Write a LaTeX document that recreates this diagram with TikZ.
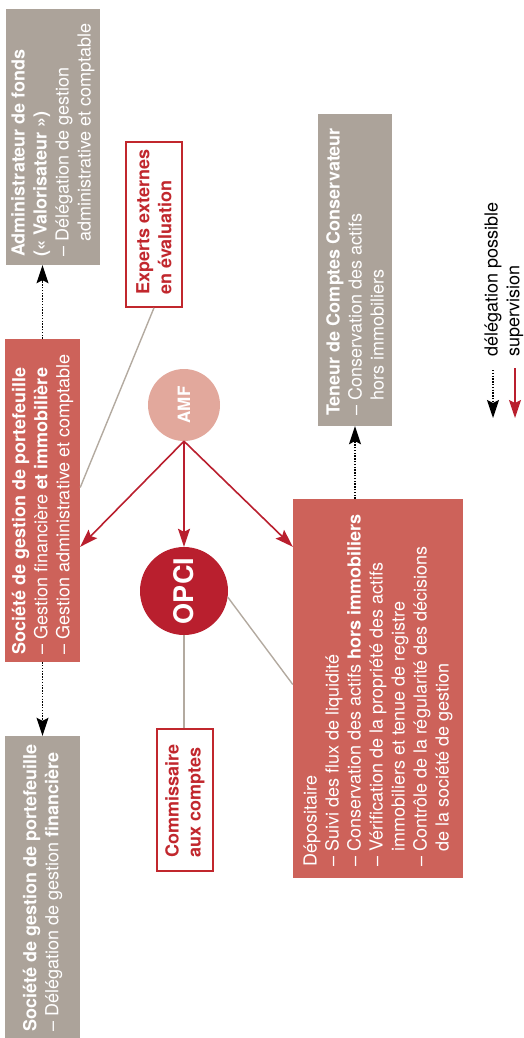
\documentclass[tikz,border=0pt]{standalone}
\usepackage{fontspec}
\setmainfont{TeX Gyre Heros}
\usetikzlibrary{arrows.meta,calc}
\definecolor{boxgray}{HTML}{ACA39A}
\definecolor{boxred}{HTML}{CD625A}
\definecolor{opred}{HTML}{B91F2E}
\definecolor{amfc}{HTML}{E2A89C}
\definecolor{linegray}{HTML}{B3AAA0}
\definecolor{outred}{HTML}{C1272D}
\begin{document}
\begin{tikzpicture}[x=1pt,y=-1pt,
  gbox/.style={rectangle, fill=boxgray, inner sep=0},
  rbox/.style={rectangle, fill=boxred, inner sep=0},
  obox/.style={rectangle, draw=outred, line width=1.6pt, fill=white, inner sep=0},
  basetxt/.style={rotate=90, anchor=west, inner sep=0, align=left, font=\fontsize{18}{22}\selectfont},
  wtxt/.style={basetxt, text=white},
  rtxt/.style={basetxt, text=outred, font=\fontsize{18}{22}\selectfont\bfseries},
  ktxt/.style={basetxt, text=black},
  deleg/.style={line width=1.4pt, dash pattern=on 1.4pt off 1.4pt, -{Stealth[length=18pt,width=12pt,inset=3pt]}},
  super/.style={draw=opred, line width=1.6pt, -{Stealth[length=18pt,width=12pt,inset=3pt]}},
  gline/.style={draw=linegray, line width=1.4pt}]
\useasboundingbox (0,0) rectangle (523,1038);

% boxes
\node[gbox, minimum width=94pt, minimum height=256pt] (adm) at (53,137) {};
\node[wtxt] (admt) at (53,257) {\textbf{Administrateur de fonds}\\\textbf{(« Valorisateur »)}\\– Délégation de gestion\\\phantom{– }administrative et comptable};

\node[obox, minimum width=56pt, minimum height=165pt] (exp) at (154,224.5) {};
\node[rtxt] (expt) at (154,295) {Experts externes\\en évaluation};

\node[rbox, minimum width=75pt, minimum height=323pt] (socA) at (42.5,500.5) {};
\node[wtxt] (socAt) at (42.5,655) {\textbf{Société de gestion de portefeuille}\\– Gestion financière \textbf{et immobilière}\\– Gestion administrative et comptable};

\node[circle, fill=amfc, minimum size=72pt, inner sep=0] (amf) at (184,405) {\rotatebox{90}{\color{white}\fontsize{17}{17}\selectfont\bfseries AMF}};
\node[circle, fill=opred, minimum size=88pt, inner sep=0] (opci) at (184,591) {\rotatebox{90}{\color{white}\fontsize{27}{27}\selectfont\bfseries OPCI}};

\node[gbox, minimum width=74pt, minimum height=312pt] (ten) at (355,270) {};
\node[wtxt] (tent) at (355,416) {\textbf{Teneur de Comptes Conservateur}\\– Conservation des actifs\\\phantom{– }hors immobiliers};

\node[rbox, minimum width=170pt, minimum height=379pt] (dep) at (378,688.5) {};
\node[wtxt] (dept) at (378,867) {Dépositaire\\– Suivi des flux de liquidité\\– Conservation des actifs \textbf{hors immobiliers}\\– Vérification de la propriété des actifs\\\phantom{– }immobiliers et tenue de registre\\– Contrôle de la régularité des décisions\\\phantom{– }de la société de gestion};

\node[obox, minimum width=56pt, minimum height=142pt] (com) at (185,800) {};
\node[rtxt] (comt) at (185,858) {Commissaire\\aux comptes};

\node[gbox, minimum width=75pt, minimum height=302pt] (socB) at (42.5,887) {};
\node[wtxt] (socBt) at (42.5,1032) {\textbf{Société de gestion de portefeuille}\\– Délégation de gestion \textbf{financière}};

% gray links
\draw[gline] (exp.south) -- ([yshift=13pt]socA.east);
\draw[gline] (opci.-8) -- ([yshift=4pt]dep.west);
\draw[gline] (opci.south) -- (opci.south |- com.north);

% delegation
\draw[deleg] (socA.north) -- (socA.north |- adm.south);
\draw[deleg] (socA.south) -- (socB.north);
\draw[deleg] (ten.south |- dep.north) -- (ten.south);

% supervision
\draw[super] (amf.south) -- (socA.east |- opci.north);
\draw[super] (amf.south) -- (opci.north);
\draw[super] (amf.south) -- (dep.west |- opci.north);

% legend
\coordinate (d1) at (493,370);
\coordinate (d2) at (493,418);
\coordinate (s1) at (515,368);
\coordinate (s2) at (515,418);
\draw[deleg] (d1) -- (d2);
\draw[super] (s1) -- (s2);
\node[ktxt] (leg1) at (493,357) {délégation possible};
\node[ktxt] (leg2) at (515,357) {supervision};
\end{tikzpicture}
\end{document}
